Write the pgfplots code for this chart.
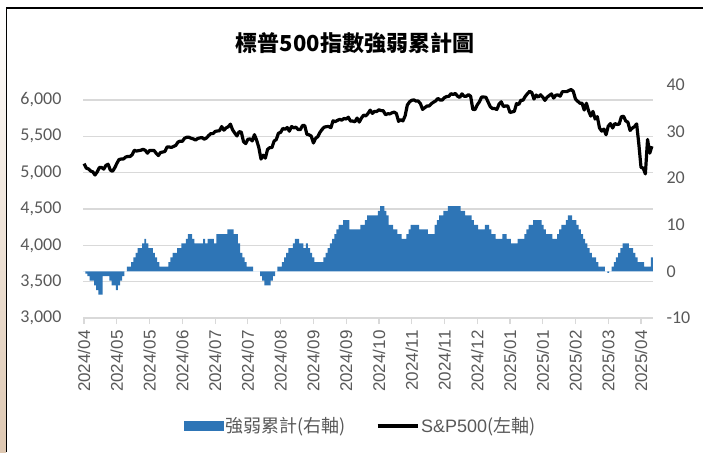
\documentclass[border=0pt]{standalone}
\usepackage{fontspec}
\setmainfont{Carlito}
\newfontfamily\cjk{Noto Sans CJK TC}
\newfontfamily\arial{Liberation Sans}
\usepackage{pgfplots}
\pgfplotsset{compat=1.18}
\usepackage{pgfplotstable}
\definecolor{barblue}{RGB}{46,117,182}
\definecolor{gridgray}{RGB}{217,217,217}
\definecolor{lblgray}{RGB}{89,89,89}
\definecolor{beige}{RGB}{222,200,178}

\pgfplotstableread{
v
5123.41
5061.82 
5051.41 
5022.21 
5011.12 
4967.23
5010.60 
5070.55 
5071.63 
5048.42 
5099.96
5116.17 
5035.69 
5018.39 
5064.20 
5127.79
5180.74 
5187.70 
5187.67 
5214.08 
5222.68
5221.42 
5246.68 
5308.15 
5297.10 
5303.27
5308.13 
5321.41 
5307.01 
5267.84 
5304.72
5304.72 
5306.04 
5266.95 
5235.48 
5277.51
5283.40 
5291.34 
5354.03 
5352.96 
5346.99
5360.79 
5375.32 
5421.03 
5433.74 
5431.60
5473.23 
5487.03 
5487.03 
5473.17 
5464.62
5447.87 
5469.30 
5477.90 
5482.87 
5460.48
5475.09 
5509.01 
5537.02 
5537.02 
5567.19
5572.85 
5576.98 
5633.91 
5584.54 
5615.35
5631.22 
5667.20 
5588.27 
5544.59 
5505.00
5564.41 
5555.74 
5427.13 
5399.22 
5459.10
5463.54 
5436.44 
5522.30 
5446.68 
5346.56
5186.33 
5240.03 
5199.50 
5319.31 
5344.16
5344.39 
5434.43 
5455.21 
5543.22 
5554.25
5608.25 
5597.12 
5620.85 
5570.64 
5634.61
5616.84 
5625.80 
5592.18 
5591.96 
5648.40
5648.40 
5528.93 
5520.07 
5503.41 
5408.42
5471.05 
5495.52 
5554.13 
5595.76 
5626.02
5633.09 
5634.58 
5618.26 
5713.64 
5702.55
5718.57 
5732.93 
5722.26 
5745.37 
5738.17
5762.48 
5708.75 
5709.54 
5699.94 
5751.07
5695.94 
5751.13 
5792.04 
5780.05 
5815.03
5859.85 
5815.26 
5842.47 
5841.47 
5864.67
5853.98 
5851.20 
5797.42 
5809.86 
5808.12
5823.52 
5832.92 
5813.67 
5705.45 
5728.80
5712.69 
5782.76 
5929.04 
5973.10 
5995.54
6001.35 
5983.99 
5985.38 
5949.17 
5870.62
5893.62 
5916.98 
5917.11 
5948.71 
5969.34
5987.37 
6021.63 
5998.74 
5998.74 
6032.38
6047.15 
6049.88 
6086.49 
6075.11 
6090.27
6052.85 
6034.91 
6084.19 
6051.25 
6051.09
6074.08 
6050.61 
5872.16 
5867.08 
5930.85
5974.07 
6040.04 
6040.04 
6037.59 
5970.84
5906.94 
5881.63 
5881.63 
5868.55 
5942.47
5975.38 
5909.03 
5918.25 
5918.25 
5827.04
5836.22 
5842.91 
5949.91 
5937.34 
5996.66
5996.66 
6049.24 
6086.37 
6118.71 
6101.24
6012.28 
6067.70 
6039.31 
6071.17 
6040.53
5994.57 
6037.88 
6061.48 
6083.57 
6025.99
6066.44 
6068.50 
6051.97 
6115.07 
6114.63
6114.63 
6129.58 
6144.15 
6117.52 
6013.13
5983.25 
5955.25 
5956.06 
5861.57 
5954.50
5849.72 
5778.15 
5842.63 
5738.52 
5770.20
5614.56 
5572.07 
5599.30 
5521.52 
5638.94
5675.12 
5614.66 
5675.29 
5662.89 
5667.56
5767.57 
5776.65 
5712.20 
5693.31 
5580.94
5611.85 
5633.07 
5670.97 
5396.52 
5074.08
5062.25 
4982.77 
5456.90 
5268.05 
5363.36
}\spx

\pgfplotstableread{
v
0
-0.5
-1
-2
-2
-3
-4
-5
-5
-1
-1
-1
-2
-3
-3
-4
-3
-2
-1
0
1
1
2
3
4
5
5
6
7
6
5
5
4
3
2
1
1
1
1
2
3
4
4
5
5
6
6
7
8
8
7
6
6
6
6
7
6
7
7
7
6
8
8
8
8
8
9
9
9
8
8
6
4
3
2
1
1
1
0
0
0
-1
-2
-3
-3
-3
-2
-1
0
1
1
2
3
4
5
5
6
7
7
6
6
5
6
5
4
3
2
2
2
2
3
4
5
6
7
8
9
10
10
11
11
11
9
9
9
9
9
10
10
11
12
12
12
12
12
13
14
14
13
12
10
10
9
9
8
8
7
7
8
9
10
10
10
10
9
9
9
9
8
8
8
10
11
12
12
13
13
14
14
14
14
14
14
13
13
12
12
12
11
10
10
9
9
9
10
10
9
8
8
7
7
7
8
8
7
7
6
6
6
7
7
7
8
9
10
10
11
11
11
11
10
9
8
8
8
7
7
8
9
10
10
11
12
12
11
11
10
9
8
7
6
5
4
3
3
2
1
1
1
0
-0.3
0
1
2
3
4
5
6
6
6
5
5
4
3
2
2
2
1
1
1
3
}\strength

\begin{document}
\begin{tikzpicture}
\path[use as bounding box] (0pt,0pt) rectangle (703pt,452pt);
\shade[top color=white, bottom color=beige] (0pt,0pt) rectangle (6pt,444pt);
\draw[black, line width=1.5pt] (6.5pt,0pt) -- (6.5pt,444pt) -- (703pt,444pt);
\node[font=\cjk\bfseries\fontsize{22}{24}\selectfont] at (355pt,409pt) {標普500指數強弱累計圖};

\begin{axis}[at={(83pt,134pt)}, anchor=south west, width=570pt, height=233pt, scale only axis,
  xmin=-0.5, xmax=260.5, ymin=3000, ymax=6206,
  axis x line*=bottom, axis y line*=left, axis line style={-},
  y axis line style={draw=none},
  x axis line style={gridgray, line width=1.2pt},
  ytick={3000,3500,...,6000},
  yticklabels={{3,000},{3,500},{4,000},{4,500},{5,000},{5,500},{6,000}},
  ytick style={draw=none},
  ymajorgrids, grid style={gridgray, line width=1.2pt},
  xtick={0,15,...,255},
  xticklabels={2024/04,2024/05,2024/05,2024/06,2024/07,2024/07,2024/08,2024/09,2024/09,2024/10,2024/11,2024/11,2024/12,2025/01,2025/01,2025/02,2025/03,2025/04},
  xtick style={gridgray, line width=1.2pt},
  tick align=outside, major tick length=6pt,
  xticklabel shift=3pt,
  x tick label style={rotate=90, anchor=east, font=\arial\fontsize{17}{18}\selectfont, text=lblgray},
  y tick label style={font=\fontsize{18}{20}\selectfont, text=lblgray, xshift=-12pt},
  clip=false]
\addplot[black, line width=3.2pt, line join=round] table[x expr=\coordindex, y=v] {\spx};
\end{axis}

\begin{axis}[at={(83pt,134pt)}, anchor=south west, width=570pt, height=233pt, scale only axis,
  xmin=-0.5, xmax=260.5, ymin=-10, ymax=40,
  hide x axis,
  axis y line*=right, axis line style={-}, y axis line style={draw=none},
  ytick={-10,0,...,40}, yticklabels={-10,0,10,20,30,40},
  ytick style={draw=none},
  y tick label style={font=\fontsize{18}{20}\selectfont, text=lblgray, xshift=10pt},
  legend columns=2,
  legend style={at={(0.487,-0.4635)}, anchor=center, draw=none, fill=none,
    font=\fontsize{18}{20}\selectfont, text=lblgray,
    /tikz/every even column/.append style={column sep=28pt}},
  legend cell align=left]
\addplot[ybar, bar width=0.9, fill=barblue, draw=none,
  legend image code/.code={\fill[barblue] (0pt,-5pt) rectangle (40pt,5pt);}]
  table[x expr=\coordindex, y=v] {\strength};
\addlegendentry{\cjk 強弱累計(右軸)}
\addlegendimage{legend image code/.code={\draw[black, line width=3.2pt] (0pt,0pt) -- (40pt,0pt);}}
\addlegendentry{{\arial S\&P500}{\cjk (左軸)}}
\end{axis}
\end{tikzpicture}
\end{document}
